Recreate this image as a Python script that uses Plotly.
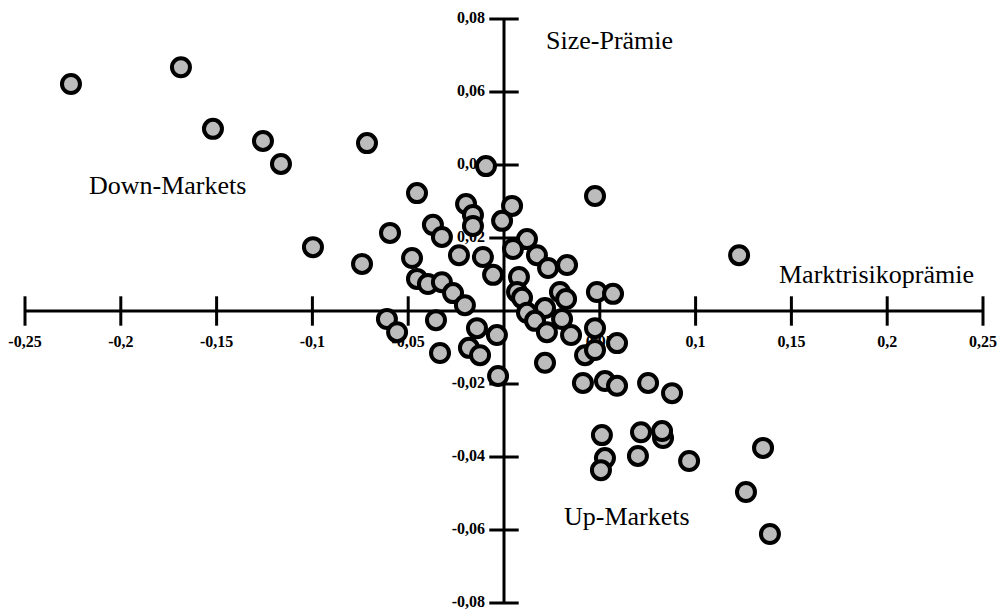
import plotly.graph_objects as go

# Scatter points: x = Marktrisikoprämie, y = Size-Prämie
x_vals = [-0.226, -0.1686, -0.1519, -0.1258, -0.1164, -0.0715, -0.0094, -0.0454, -0.0997, -0.0595,
          -0.0741, -0.0371, -0.0324, -0.0235, -0.0198, -0.0162, -0.0162, 0.0042, -0.001, -0.011,
          -0.0057, -0.048, -0.0454, -0.0397, -0.0324, -0.0266, -0.0204, 0.012, 0.0047, 0.0172,
          0.023, 0.0329, 0.0078, 0.0068, 0.0094, 0.0292, 0.0485, 0.0569, 0.0475, 0.1227,
          0.0214, 0.012, 0.0162, 0.0303, 0.0224, 0.035, 0.0475, 0.059, 0.0423, 0.0475,
          0.0214, -0.0037, -0.0031, -0.0611, -0.0558, -0.0355, -0.0141, -0.0183, -0.0125, -0.0334,
          0.0412, 0.0527, 0.059, 0.0752, 0.0877, 0.0511, 0.0715, 0.083, 0.0527, 0.0506,
          0.0699, 0.0966, 0.1352, 0.1263, 0.1388, 0.0324, 0.0825]
y_vals = [0.0622, 0.0668, 0.0499, 0.0466, 0.0403, 0.046, 0.0397, 0.0323, 0.0175, 0.0214,
          0.0129, 0.0236, 0.0203, 0.0153, 0.0293, 0.0263, 0.0233, 0.0288, 0.0247, 0.0148,
          0.0099, 0.0145, 0.0088, 0.0074, 0.0079, 0.0049, 0.0016, 0.0197, 0.017, 0.0153,
          0.0118, 0.0126, 0.0093, 0.0052, 0.0036, 0.0052, 0.0052, 0.0047, 0.0315, 0.0153,
          0.0008, -0.0005, -0.0027, -0.0022, -0.0058, -0.0066, -0.0047, -0.0088, -0.0121, -0.0107,
          -0.0142, -0.0066, -0.0178, -0.0022, -0.0058, -0.0025, -0.0047, -0.0101, -0.0121, -0.0115,
          -0.0197, -0.0192, -0.0205, -0.0197, -0.0225, -0.034, -0.0332, -0.0348, -0.0403, -0.0436,
          -0.0397, -0.0411, -0.0375, -0.0496, -0.0611, 0.0033, -0.0329]

x_ticks = [-0.25, -0.2, -0.15, -0.1, -0.05, 0.05, 0.1, 0.15, 0.2, 0.25]
x_tick_labels = ["-0,25", "-0,2", "-0,15", "-0,1", "-0,05", "0,05", "0,1", "0,15", "0,2", "0,25"]
y_ticks = [0.08, 0.06, 0.04, 0.02, -0.02, -0.04, -0.06, -0.08]
y_tick_labels = ["0,08", "0,06", "0,04", "0,02", "-0,02", "-0,04", "-0,06", "-0,08"]

X_RANGE = [-0.25, 0.25]
Y_RANGE = [-0.08, 0.08]
W, H = 1001, 610
M = dict(l=25, r=18, t=19, b=7)
px_per_x = (W - M["l"] - M["r"]) / (X_RANGE[1] - X_RANGE[0])
px_per_y = (H - M["t"] - M["b"]) / (Y_RANGE[1] - Y_RANGE[0])

serif = "Liberation Serif, Times New Roman, serif"
fig = go.Figure()

# axis lines
fig.add_trace(go.Scatter(x=X_RANGE, y=[0, 0], mode="lines", cliponaxis=False,
                         line=dict(color="black", width=3), hoverinfo="skip"))
fig.add_trace(go.Scatter(x=[0, 0], y=Y_RANGE, mode="lines", cliponaxis=False,
                         line=dict(color="black", width=3), hoverinfo="skip"))
# tick marks
fig.add_trace(go.Scatter(x=x_ticks, y=[0] * len(x_ticks), mode="markers", cliponaxis=False,
                         marker=dict(symbol="line-ns", size=21,
                                     line=dict(color="black", width=3)), hoverinfo="skip"))
fig.add_trace(go.Scatter(x=[0] * len(y_ticks), y=y_ticks, mode="markers", cliponaxis=False,
                         marker=dict(symbol="line-ew", size=21,
                                     line=dict(color="black", width=3)), hoverinfo="skip"))
# tick labels
fig.add_trace(go.Scatter(x=x_ticks, y=[-32 / px_per_y] * len(x_ticks), mode="text",
                         text=x_tick_labels, textposition="middle center", cliponaxis=False,
                         textfont=dict(family=serif, size=16, color="black", weight="bold"),
                         hoverinfo="skip"))
fig.add_trace(go.Scatter(x=[-19 / px_per_x] * len(y_ticks), y=y_ticks, mode="text",
                         text=y_tick_labels, textposition="middle left", cliponaxis=False,
                         textfont=dict(family=serif, size=16, color="black", weight="bold"),
                         hoverinfo="skip"))
# data points
fig.add_trace(go.Scatter(x=x_vals, y=y_vals, mode="markers", cliponaxis=False,
                         marker=dict(symbol="circle", size=18, color="#bcbcbc",
                                     line=dict(color="black", width=4)),
                         hoverinfo="x+y"))

ann_font = dict(family=serif, size=26, color="black")
fig.add_annotation(x=0.0548, y=0.074, text="Size-Prämie", showarrow=False, font=ann_font)
fig.add_annotation(x=-0.1754, y=0.0345, text="Down-Markets", showarrow=False, font=ann_font)
fig.add_annotation(x=0.1942, y=0.0101, text="Marktrisikoprämie", showarrow=False, font=ann_font)
fig.add_annotation(x=0.0642, y=-0.0564, text="Up-Markets", showarrow=False, font=ann_font)

fig.update_layout(
    width=W, height=H, margin=M,
    paper_bgcolor="white", plot_bgcolor="white",
    showlegend=False,
    xaxis=dict(range=X_RANGE, visible=False, fixedrange=True),
    yaxis=dict(range=Y_RANGE, visible=False, fixedrange=True),
)

# remove the default 8px body margin so the figure fills the window exactly
fig.write_html("out.html",
               config={"displayModeBar": False},
               post_script="document.body.style.margin='0';document.body.style.overflow='hidden';")
